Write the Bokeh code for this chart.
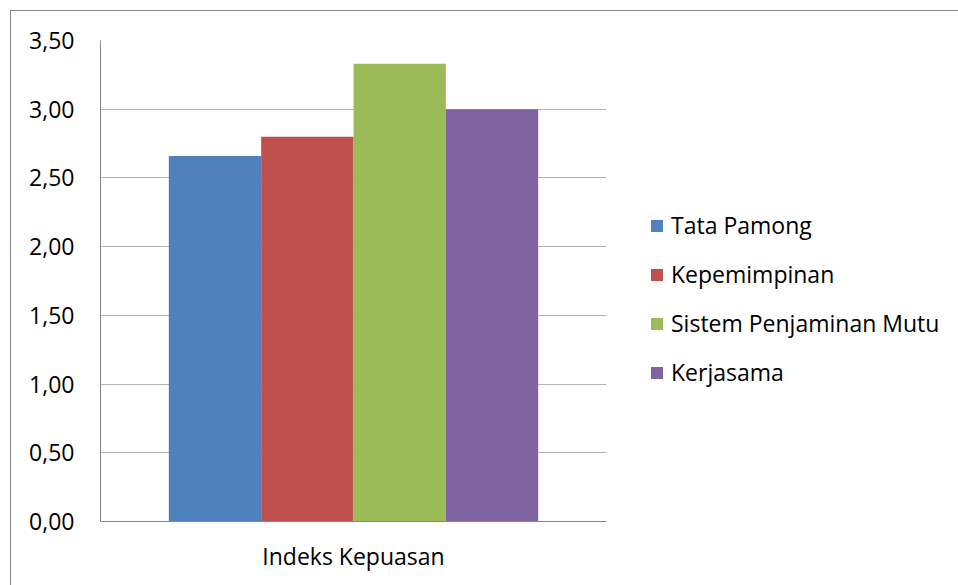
from bokeh.plotting import figure
from bokeh.models import (FactorRange, Range1d, ColumnDataSource, SingleIntervalTicker,
                          CustomJSTickFormatter, Legend, LegendItem)
from bokeh.transform import dodge
from bokeh.embed import file_html
from bokeh.resources import INLINE

category = ["Indeks Kepuasan"]
series = ["Tata Pamong", "Kepemimpinan", "Sistem Penjaminan Mutu", "Kerjasama"]
values = [2.66, 2.80, 3.33, 3.00]
colors = ["#4F81BD", "#C0504D", "#9BBB59", "#8064A2"]
y_min, y_max, y_step = 0.0, 3.5, 0.5

FONT = "Open Sans"
FS = "23px"

p = figure(frame_width=506, frame_height=481,
           x_range=FactorRange(factors=category, range_padding=0),
           y_range=Range1d(y_min, y_max), output_backend="svg", toolbar_location=None,
           min_border_left=89, min_border_top=29, min_border_right=350, min_border_bottom=65)
p.styles = {"border": "1px solid #868686", "margin-left": "10px", "margin-top": "10px"}
p.outline_line_color = None
p.background_fill_color = "white"

group_width = 0.73
bw = group_width / len(series)
items = []
for i, (name, v, c) in enumerate(zip(series, values, colors)):
    src = ColumnDataSource(dict(x=category, top=[v]))
    off = (i - (len(series) - 1) / 2) * bw
    r = p.vbar(x=dodge("x", off, range=p.x_range), top="top", width=bw, source=src,
               fill_color=c, line_color=None)
    items.append(LegendItem(label=name, renderers=[r]))

legend = Legend(items=items, location=(43, 133), border_line_color=None,
                background_fill_alpha=0, label_text_font=FONT, label_text_font_size=FS,
                label_text_color="#000000", glyph_width=15, glyph_height=15, spacing=17,
                label_standoff=7, padding=0, margin=0)
p.add_layout(legend, "right")

p.yaxis.ticker = SingleIntervalTicker(interval=y_step)
p.yaxis.formatter = CustomJSTickFormatter(code="return tick.toFixed(2).replace('.', ',');")
p.yaxis.major_tick_line_color = None
p.yaxis.minor_tick_line_color = None
p.yaxis.axis_line_color = "#868686"
p.yaxis.major_label_standoff = 20
p.yaxis.major_label_text_font = FONT
p.yaxis.major_label_text_font_size = FS
p.yaxis.major_label_text_color = "#000000"

p.xaxis.major_tick_line_color = None
p.xaxis.minor_tick_line_color = None
p.xaxis.axis_line_color = "#868686"
p.xaxis.major_label_standoff = 12
p.xaxis.major_label_text_font = FONT
p.xaxis.major_label_text_font_size = FS
p.xaxis.major_label_text_color = "#000000"

p.xgrid.grid_line_color = None
p.ygrid.grid_line_color = "#B4B4B4"
p.ygrid.grid_line_width = 1

open("out.html", "w").write(file_html(p, INLINE))
